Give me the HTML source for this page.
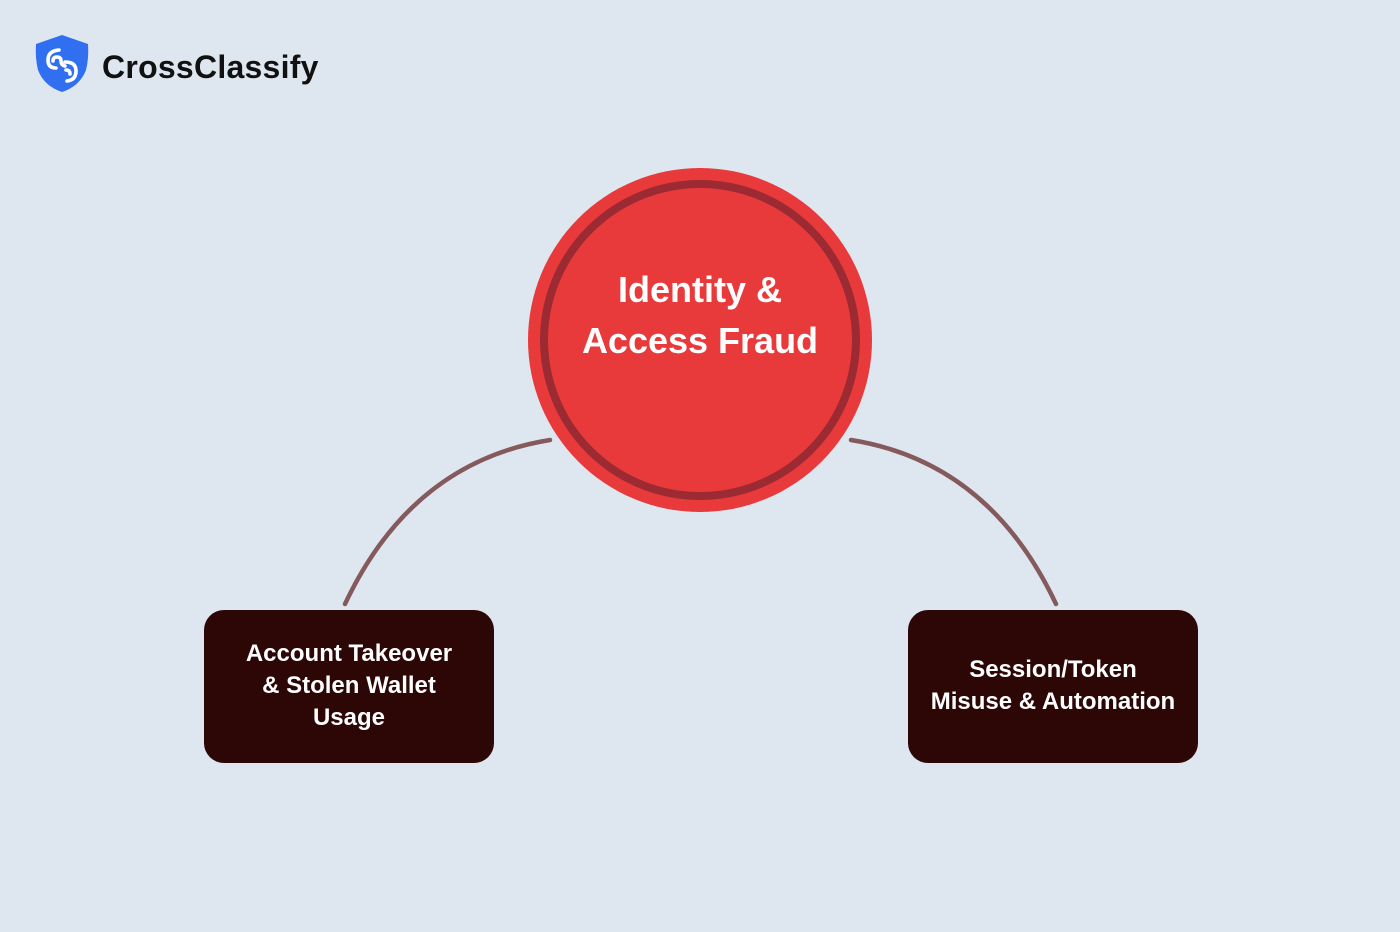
<!DOCTYPE html>
<html>
<head>
<meta charset="utf-8">
<style>
  html,body{margin:0;padding:0;}
  body{width:1400px;height:932px;background:#dee7f0;position:relative;overflow:hidden;font-family:"Liberation Sans",sans-serif;}
  .logo-text{position:absolute;left:102px;top:47px;font-size:32px;font-weight:bold;color:#111;line-height:40px;letter-spacing:0.25px;}
  .box{position:absolute;width:290px;height:153px;background:#2d0606;border-radius:20px;color:#fff;font-weight:bold;font-size:24px;line-height:32px;display:flex;align-items:center;justify-content:center;text-align:center;}
  .box span{position:relative;top:-1px;}
  .center-text{position:absolute;left:500px;top:264px;width:400px;text-align:center;color:#fff;font-weight:bold;font-size:36px;line-height:51px;}
</style>
</head>
<body>
<svg width="1400" height="932" style="position:absolute;left:0;top:0">
  <!-- connectors -->
  <path d="M550 440 Q412 462 345 604" fill="none" stroke="#845a5c" stroke-width="4.5" stroke-linecap="round"/>
  <path d="M851 440 Q989 462 1056 604" fill="none" stroke="#845a5c" stroke-width="4.5" stroke-linecap="round"/>
  <!-- circle -->
  <circle cx="700" cy="340" r="172" fill="#e8393b"/>
  <circle cx="700" cy="340" r="156" fill="none" stroke="#9c2a33" stroke-width="8"/>
  <!-- shield logo -->
  <path d="M62 35 L88 44 Q89 58 86 70 Q80 86 62 92 Q44 86 38 70 Q35 58 36 44 Z" fill="#2f6ff0"/>
  <g fill="none" stroke="#fff" stroke-width="3.6" stroke-linecap="round">
    <path d="M59 50 Q48 51 48 60 Q48 68 56 68"/>
    <path d="M53 61 Q53 57 57 57 Q61 57 61 61 Q61 65 65 66"/>
    <path d="M65 62 Q76 62 76 71 Q76 80 67 81"/>
    <path d="M70 74 Q70 70 66 70"/>
  </g>
</svg>
<div class="logo-text">CrossClassify</div>
<div class="center-text">Identity &amp;<br>Access Fraud</div>
<div class="box" style="left:204px;top:610px;"><span>Account Takeover<br>&amp; Stolen Wallet<br>Usage</span></div>
<div class="box" style="left:908px;top:610px;"><span>Session/Token<br>Misuse &amp; Automation</span></div>
</body>
</html>
